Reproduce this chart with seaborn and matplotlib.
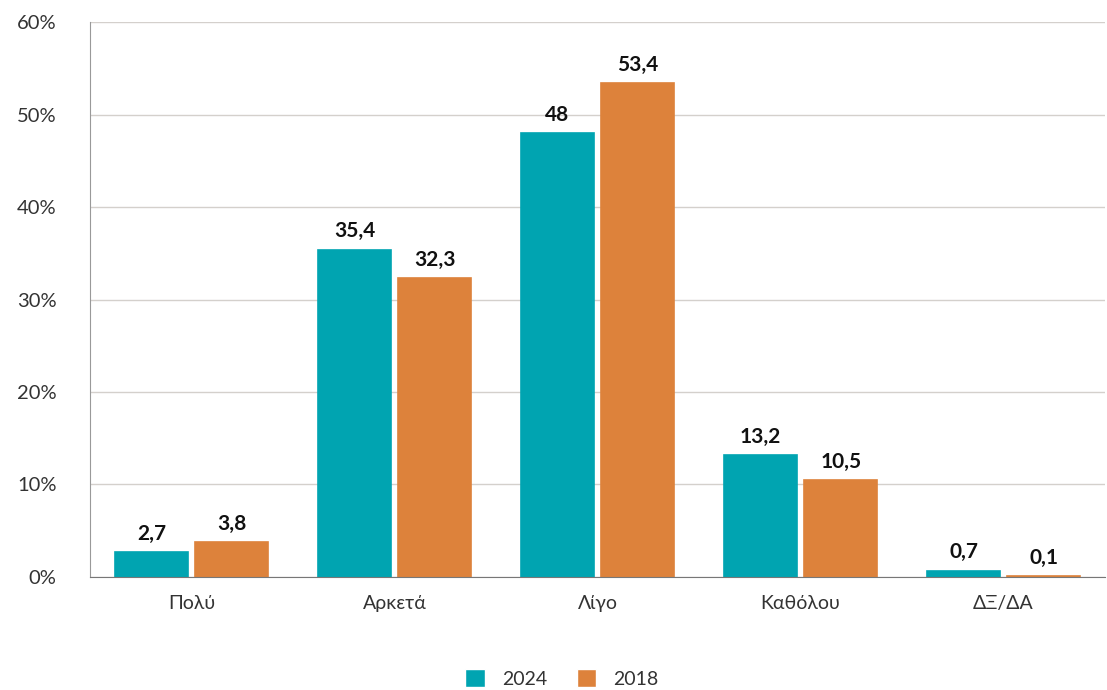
import matplotlib
matplotlib.use('Agg')
import matplotlib.pyplot as plt
import seaborn as sns
import pandas as pd
from matplotlib.ticker import FixedLocator, PercentFormatter

# δεδομένα
categories = ['Πολύ', 'Αρκετά', 'Λίγο', 'Καθόλου', 'ΔΞ/ΔΑ']
years = ['2024', '2018']
values_2024 = [2.7, 35.4, 48.0, 13.2, 0.7]
values_2018 = [3.8, 32.3, 53.4, 10.5, 0.1]
y_ticks = [0, 10, 20, 30, 40, 50, 60]

colors = {'2024': '#00A4B1', '2018': '#DD823B'}

df = pd.DataFrame({
    'cat': categories * 2,
    'year': [years[0]] * 5 + [years[1]] * 5,
    'val': values_2024 + values_2018,
})

sns.set_style('white')
plt.rcParams['font.family'] = ['Lato', 'DejaVu Sans']

fig = plt.figure(figsize=(11.07, 6.9), dpi=100)
ax = fig.add_axes([0.0813, 0.1638, 0.917, 0.8042])

sns.barplot(data=df, x='cat', y='val', hue='year', palette=colors,
            order=categories, hue_order=years, width=0.79, gap=0.09,
            saturation=1, ax=ax, legend=True)

def fmt(v):
    s = f'{v:.1f}'.replace('.', ',')
    return s[:-2] if s.endswith(',0') else s

for cont, vals in zip(ax.containers, [values_2024, values_2018]):
    # λεπτό περίγραμμα ώστε να φαίνονται και οι πολύ μικρές μπάρες
    for p in cont.patches:
        p.set_edgecolor(p.get_facecolor())
        p.set_linewidth(1.2)
    ax.bar_label(cont, labels=[fmt(v) for v in vals], padding=6,
                 fontsize=15, fontweight='bold', color='#111111')

ax.set_ylim(0, 60)
ax.set_xlim(-0.5, 4.5)
ax.set_yticks(y_ticks)
ax.yaxis.set_major_formatter(PercentFormatter(decimals=0))
ax.yaxis.grid(True, color='#d4d0cc', linewidth=1)
ax.set_axisbelow(True)

ax.set_xlabel('')
ax.set_ylabel('')
ax.xaxis.set_minor_locator(FixedLocator([-0.5, 0.5, 1.5, 2.5, 3.5]))
ax.tick_params(axis='x', which='major', length=0, pad=13, labelsize=14, labelcolor='#333333')
ax.tick_params(axis='x', which='minor', length=5, direction='in', color='#999999')
ax.tick_params(axis='y', length=8, direction='in', color='#888888', pad=24,
               labelsize=14.5, labelcolor='#333333')

for s in ['top', 'right']:
    ax.spines[s].set_visible(False)
ax.spines['left'].set_color('#999999')
ax.spines['bottom'].set_color('#777777')

leg = ax.legend(loc='upper center', bbox_to_anchor=(0.465, -0.135), ncol=2,
                frameon=False, fontsize=14, handlelength=1.0, handleheight=1.0,
                columnspacing=1.5, handletextpad=0.9)
for t in leg.get_texts():
    t.set_color('#333333')

fig.savefig('out.png', dpi=100)
